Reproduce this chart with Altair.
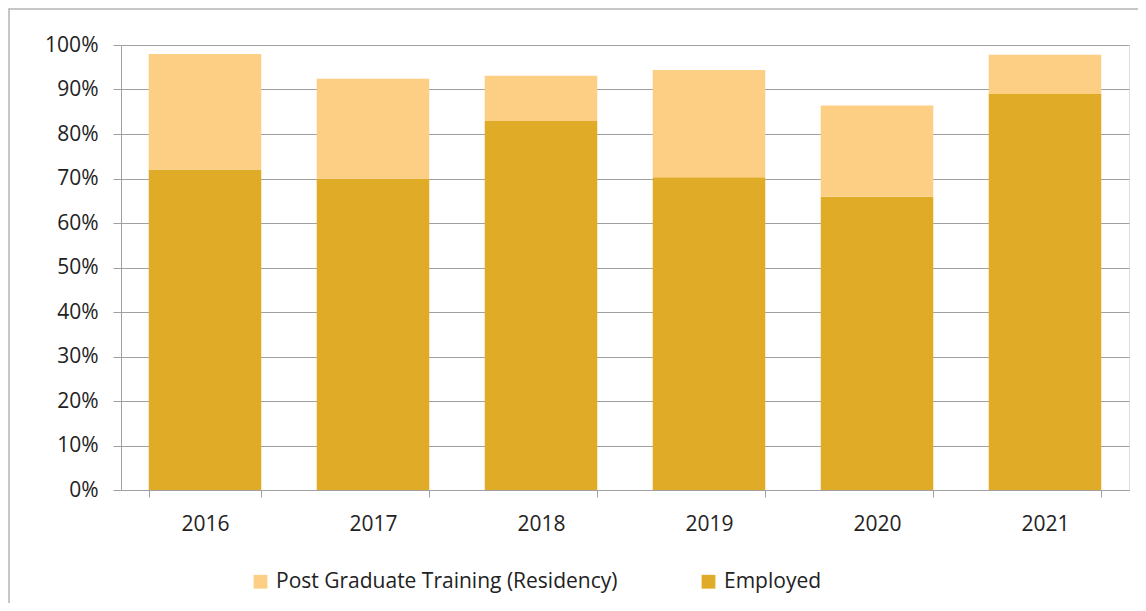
import altair as alt
import pandas as pd

years = ["2016", "2017", "2018", "2019", "2020", "2021"]
employed = [72.0, 70.0, 82.9, 70.3, 65.9, 89.0]
total = [98.0, 92.4, 93.1, 94.4, 86.4, 97.8]
series = ["Post Graduate Training (Residency)", "Employed"]
colors = ["#FDCF85", "#E0AB26"]

rows = []
for y, e, t in zip(years, employed, total):
    rows.append({"year": y, "series": "Employed", "value": e / 100, "ord": 0})
    rows.append({"year": y, "series": series[0], "value": (t - e) / 100, "ord": 1})
df = pd.DataFrame(rows)

FONT = "Open Sans"

bars = alt.Chart(df).mark_bar().encode(
    x=alt.X("year:N", sort=years, title=None,
            scale=alt.Scale(paddingInner=0.33, paddingOuter=0.165),
            axis=alt.Axis(labelAngle=0, tickBand="extent", tickSize=7,
                          labelPadding=16, labelFontSize=21, labelColor="#222222",
                          domainColor="#a0a0a0", tickColor="#a0a0a0", grid=False)),
    y=alt.Y("value:Q", stack="zero", title=None,
            scale=alt.Scale(domain=[0, 1], nice=False),
            axis=alt.Axis(format=".0%", values=[i / 10 for i in range(11)],
                          tickSize=8, labelPadding=15, labelFontSize=21,
                          labelColor="#222222", domainColor="#a0a0a0",
                          tickColor="#a0a0a0", gridColor="#a0a0a0", grid=True)),
    color=alt.Color("series:N", scale=alt.Scale(domain=series, range=colors),
                    legend=alt.Legend(title=None, orient="none", direction="horizontal",
                                      legendX=129, legendY=526,
                                      symbolType="square", symbolSize=190,
                                      symbolStrokeWidth=0, labelFontSize=21,
                                      labelColor="#222222", columnPadding=80,
                                      labelOffset=5, labelLimit=500)),
    order=alt.Order("ord:Q"),
)

frame = alt.Chart(pd.DataFrame({"a": [0]})).mark_rect(
    fill=None, stroke="#b4b4b4", strokeWidth=1.5
).encode(x=alt.value(-112), x2=alt.value(1060), y=alt.value(-36), y2=alt.value(640))

chart = alt.layer(frame, bars).properties(
    width=1008, height=445,
    autosize=alt.AutoSizeParams(type="none"),
    padding={"left": 113, "top": 37, "right": 9, "bottom": 113},
).configure_view(stroke=None).configure(font=FONT)

chart.save("out.html", embed_options={"renderer": "svg", "actions": False})
